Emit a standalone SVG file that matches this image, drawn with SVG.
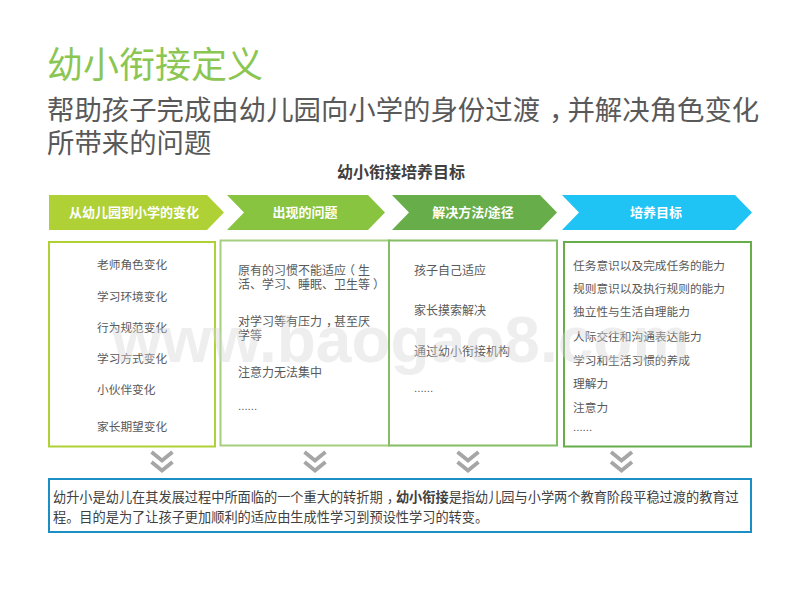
<svg xmlns="http://www.w3.org/2000/svg" width="800" height="600" viewBox="0 0 800 600">
<style>
text{font-family:"Liberation Sans","Noto Sans CJK SC",sans-serif}
.t{font-size:12px;fill:#595959}
.s{font-size:11.7px;fill:#595959}
.d{font-size:11.500px;fill:#595959}
.h{font-size:13px;font-weight:bold;fill:#fff;text-anchor:middle}
.box{fill:#fff;stroke-width:2}
.chev{fill:none;stroke:#a6a6a6;stroke-width:3.800}
</style>
<rect width="800" height="600" fill="#fff"/>
<text x="47" y="78" font-size="36" fill="#8bc653">幼小衔接定义</text>
<text x="47" y="120" font-size="27.4" fill="#595959">帮助孩子完成由幼儿园向小学的身份过渡<tspan dx="9">，</tspan><tspan dx="-9">并解决角色变化</tspan></text>
<text x="47" y="153" font-size="27.4" fill="#595959">所带来的问题</text>
<text x="401" y="178" font-size="16" font-weight="bold" fill="#404040" text-anchor="middle">幼小衔接培养目标</text>
<g id="step1"><path d="M49 195H207L224 212.500L207 230H49Z" fill="#b0d136"/><text class="h" x="134" y="217">从幼儿园到小学的变化</text></g>
<g id="step2"><path d="M227 195H368L385 212.500L368 230H227L244 212.500Z" fill="#88c440"/><text class="h" x="305" y="217">出现的问题</text></g>
<g id="step3"><path d="M392 195H540L557 212.500L540 230H392L409 212.500Z" fill="#67ad49"/><text class="h" x="473" y="217">解决方法/途径</text></g>
<g id="step4"><path d="M562 195H735L752 212.500L735 230H562L579 212.500Z" fill="#20c4f4"/><text class="h" x="656" y="217">培养目标</text></g>
<g id="box1"><rect class="box" x="49" y="242" width="166" height="204.500" stroke="#b0d136"/>
<text class="s" x="97" y="268.500">老师角色变化</text><text class="s" x="97" y="300.500">学习环境变化</text><text class="s" x="97" y="331.500">行为规范变化</text><text class="s" x="97" y="362.500">学习方式变化</text><text class="s" x="97" y="393.500">小伙伴变化</text><text class="s" x="97" y="430.500">家长期望变化</text></g>
<g id="box2"><rect class="box" x="220.500" y="240.500" width="168.500" height="205" stroke="#a5cf7e"/>
<text class="t" x="238" y="275">原有的习惯不能适应<tspan dx="-3">（</tspan><tspan dx="3">生</tspan></text><text class="t" x="238" y="289">活、学习、睡眠、卫生等<tspan dx="3">）</tspan></text><text class="t" x="238" y="326">对学习等有压力<tspan dx="4">，</tspan><tspan dx="-4">甚至厌</tspan></text><text class="t" x="238" y="339.500">学等</text><text class="t" x="238" y="377">注意力无法集中</text><text class="d" x="238" y="410">......</text></g>
<g id="box3"><rect class="box" x="389" y="240.500" width="168" height="205" stroke="#84bd63"/>
<text class="t" x="414" y="275">孩子自己适应</text><text class="t" x="414" y="315">家长摸索解决</text><text class="t" x="414" y="356">通过幼小衔接机构</text><text class="d" x="414" y="392">......</text></g>
<g id="box4"><rect class="box" x="564" y="242" width="187" height="204.500" stroke="#67ad49"/>
<text class="s" x="573" y="270">任务意识以及完成任务的能力</text><text class="s" x="573" y="293">规则意识以及执行规则的能力</text><text class="s" x="573" y="316">独立性与生活自理能力</text><text class="s" x="573" y="341">人际交往和沟通表达能力</text><text class="s" x="573" y="365">学习和生活习惯的养成</text><text class="s" x="573" y="387.500">理解力</text><text class="s" x="573" y="412">注意力</text><text class="d" x="573" y="431">......</text></g>
<g id="connectors">
<path class="chev" d="M151.500 452L162 460.500L172.500 452M151.500 462L162 470.500L172.500 462"/>
<path class="chev" d="M304.500 452L315 460.500L325.500 452M304.500 462L315 470.500L325.500 462"/>
<path class="chev" d="M457.500 452L468 460.500L478.500 452M457.500 462L468 470.500L478.500 462"/>
<path class="chev" d="M611 452L621.500 460.500L632 452M611 462L621.500 470.500L632 462"/>
</g>
<g id="note"><rect class="box" x="49" y="479" width="702" height="53" stroke="#1b8fc4"/>
<text x="53" y="502" font-size="13.2" fill="#404040">幼升小是幼儿在其发展过程中所面临的一个重大的转折期<tspan dx="4">，</tspan><tspan dx="-4" font-weight="bold">幼小衔接</tspan>是指幼儿园与小学两个教育阶段平稳过渡的教育过</text>
<text x="53" y="522" font-size="13.2" fill="#404040">程。目的是为了让孩子更加顺利的适应由生成性学习到预设性学习的转变。</text></g>
<text id="watermark" x="112" y="362" font-size="64" font-weight="bold" fill="#d4d4d4" fill-opacity="0.4">www.baogao8.com</text>
</svg>
